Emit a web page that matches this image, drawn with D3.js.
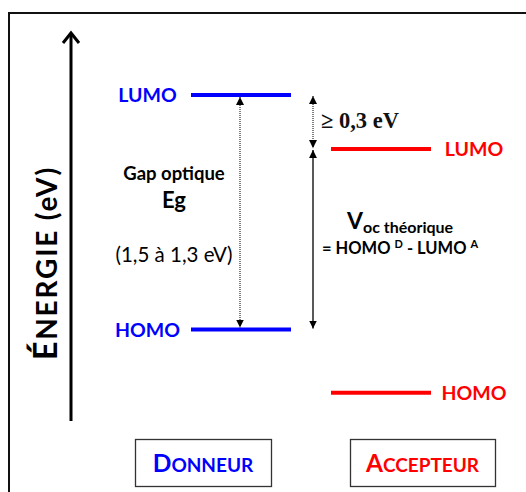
<!DOCTYPE html>
<html>
<head>
<meta charset="utf-8">
<script src="https://cdn.jsdelivr.net/npm/d3@7"></script>
<style>
  body { margin: 0; background: #fff; }
</style>
</head>
<body>
<div id="chart"></div>
<script>
// energy levels (eV) for the donor / acceptor diagram
var sides = ["Donneur", "Accepteur"];
var levelNames = ["LUMO", "HOMO"];
var donorLevels = [-3.6, -4.9];      // LUMO, HOMO
var acceptorLevels = [-3.9, -5.25];  // LUMO, HOMO
var sideColors = ["#0000ff", "#ff0000"];
var gapLabels = ["Gap optique", "Eg", "(1,5 à 1,3 eV)"];
var offsetLabel = "≥ 0,3 eV";

var width = 526;
var height = 492;
var sans = "Lato, 'Open Sans', sans-serif";

var svg = d3.select("#chart")
    .append("svg")
    .attr("width", width)
    .attr("height", height)
    .style("font-family", sans);

// vertical energy scale
var y = d3.scaleLinear()
    .domain([-3.6, -4.9])
    .range([95, 329.5]);

// left edge of each column of levels
var x = d3.scaleOrdinal()
    .domain(sides)
    .range([191, 331]);
var levelWidth = 100;
// centre of the level names
var labelX = d3.scaleOrdinal()
    .domain(sides)
    .range([147.5, 474]);

// arrow markers
var defs = svg.append("defs");
defs.append("marker")
    .attr("id", "tri")
    .attr("viewBox", "0 0 10 10")
    .attr("refX", 10).attr("refY", 5)
    .attr("markerWidth", 8).attr("markerHeight", 8)
    .attr("markerUnits", "userSpaceOnUse")
    .attr("orient", "auto-start-reverse")
    .append("path")
    .attr("d", "M0,0 L10,5 L0,10 z")
    .attr("fill", "#000");

// frame
svg.append("path")
    .attr("d", "M9," + height + " L9,13 L" + width + ",13")
    .attr("fill", "none")
    .attr("stroke", "#111")
    .attr("stroke-width", 2);

// energy axis arrow
svg.append("line")
    .attr("x1", 71).attr("x2", 71)
    .attr("y1", 421).attr("y2", 34)
    .attr("stroke", "#000")
    .attr("stroke-width", 3);
svg.append("path")
    .attr("d", "M63,43 L71,33 L79,43")
    .attr("fill", "none")
    .attr("stroke", "#000")
    .attr("stroke-width", 3);

var axisLabel = svg.append("text")
    .attr("transform", "translate(57," + 263 + ") rotate(-90)")
    .attr("text-anchor", "middle")
    .attr("font-weight", "bold")
    .attr("letter-spacing", 1.8)
    .attr("fill", "#000");
axisLabel.append("tspan").attr("font-size", 32).text("É");
axisLabel.append("tspan").attr("font-size", 28).text("NERGIE (eV)");

// level lines and labels
var levels = [];
levelNames.forEach(function(name, i) {
    levels.push({ side: sides[0], name: name, e: donorLevels[i], color: sideColors[0] });
    levels.push({ side: sides[1], name: name, e: acceptorLevels[i], color: sideColors[1] });
});

svg.append("g")
    .selectAll("line")
    .data(levels)
    .enter()
    .append("line")
    .attr("x1", function(d) { return x(d.side); })
    .attr("x2", function(d) { return x(d.side) + levelWidth; })
    .attr("y1", function(d) { return y(d.e); })
    .attr("y2", function(d) { return y(d.e); })
    .attr("stroke", function(d) { return d.color; })
    .attr("stroke-width", 4);

svg.append("g")
    .selectAll("text")
    .data(levels)
    .enter()
    .append("text")
    .attr("x", function(d) { return labelX(d.side); })
    .attr("y", function(d) { return y(d.e); })
    .attr("dy", "0.36em")
    .attr("text-anchor", "middle")
    .attr("font-size", 19.5)
    .attr("font-weight", "bold")
    .attr("fill", function(d) { return d.color; })
    .text(function(d) { return d.name; });

// optical gap arrow (dotted)
var gapX = x(sides[0]) + levelWidth / 2 - 1;
svg.append("line")
    .attr("x1", gapX).attr("x2", gapX)
    .attr("y1", y(donorLevels[0]) + 2)
    .attr("y2", y(donorLevels[1]) - 2)
    .attr("stroke", "#000")
    .attr("stroke-width", 1)
    .attr("stroke-dasharray", "1,1")
    .attr("marker-start", "url(#tri)")
    .attr("marker-end", "url(#tri)");

var gapText = svg.append("text")
    .attr("text-anchor", "middle")
    .attr("fill", "#000");
gapText.append("tspan").attr("x", 174).attr("y", 180)
    .attr("font-size", 18.5).attr("font-weight", "bold").text(gapLabels[0]);
gapText.append("tspan").attr("x", 174).attr("y", 208)
    .attr("font-size", 22).attr("font-weight", "bold").text(gapLabels[1]);
gapText.append("tspan").attr("x", 174).attr("y", 262)
    .attr("font-size", 20.5).text(gapLabels[2]);

// offset arrow between LUMOs (dotted) and Voc arrow (solid)
var rx = 313;
svg.append("line")
    .attr("x1", rx).attr("x2", rx)
    .attr("y1", y(donorLevels[0]) + 1)
    .attr("y2", y(acceptorLevels[0]) - 1)
    .attr("stroke", "#000")
    .attr("stroke-width", 1)
    .attr("stroke-dasharray", "1,1")
    .attr("marker-start", "url(#tri)")
    .attr("marker-end", "url(#tri)");

svg.append("line")
    .attr("x1", rx).attr("x2", rx)
    .attr("y1", y(acceptorLevels[0]) + 1)
    .attr("y2", y(donorLevels[1]) - 1)
    .attr("stroke", "#000")
    .attr("stroke-width", 1.3)
    .attr("marker-start", "url(#tri)")
    .attr("marker-end", "url(#tri)");

svg.append("text")
    .attr("x", 321)
    .attr("y", 128)
    .style("font-family", "'Liberation Serif', 'DejaVu Serif', serif")
    .attr("font-size", 22.5)
    .attr("font-weight", "bold")
    .attr("fill", "#111")
    .text(offsetLabel);

var voc = svg.append("text").attr("fill", "#000").attr("font-weight", "bold");
voc.append("tspan").attr("x", 347).attr("y", 229).attr("font-size", 23).text("V");
voc.append("tspan").attr("dy", 4).attr("font-size", 16).text("oc théorique");

var vocEq = svg.append("text").attr("x", 322).attr("y", 254)
    .attr("fill", "#000").attr("font-weight", "bold").attr("font-size", 16.5);
vocEq.append("tspan").text("= HOMO ");
vocEq.append("tspan").attr("font-size", 11).attr("dy", -6).text("D");
vocEq.append("tspan").attr("dy", 6).text(" - LUMO ");
vocEq.append("tspan").attr("font-size", 11).attr("dy", -6).text("A");

// bottom boxes
var boxX = d3.scaleOrdinal().domain(sides).range([135, 350]);
var boxW = d3.scaleOrdinal().domain(sides).range([136, 145]);

var boxes = svg.append("g")
    .selectAll("g")
    .data(sides)
    .enter()
    .append("g");

boxes.append("rect")
    .attr("x", function(d) { return boxX(d) + 0.5; })
    .attr("y", 439.5)
    .attr("width", function(d) { return boxW(d); })
    .attr("height", 47)
    .attr("fill", "#fff")
    .attr("stroke", "#333")
    .attr("stroke-width", 1.3);

var boxText = boxes.append("text")
    .attr("x", function(d) { return boxX(d) + boxW(d) / 2; })
    .attr("y", 472)
    .attr("text-anchor", "middle")
    .attr("font-weight", "bold")
    .attr("fill", function(d, i) { return sideColors[i]; });
boxText.append("tspan").attr("font-size", 24.5)
    .text(function(d) { return d[0].toUpperCase(); });
boxText.append("tspan").attr("font-size", 19)
    .text(function(d) { return d.slice(1).toUpperCase(); });
</script>
</body>
</html>
